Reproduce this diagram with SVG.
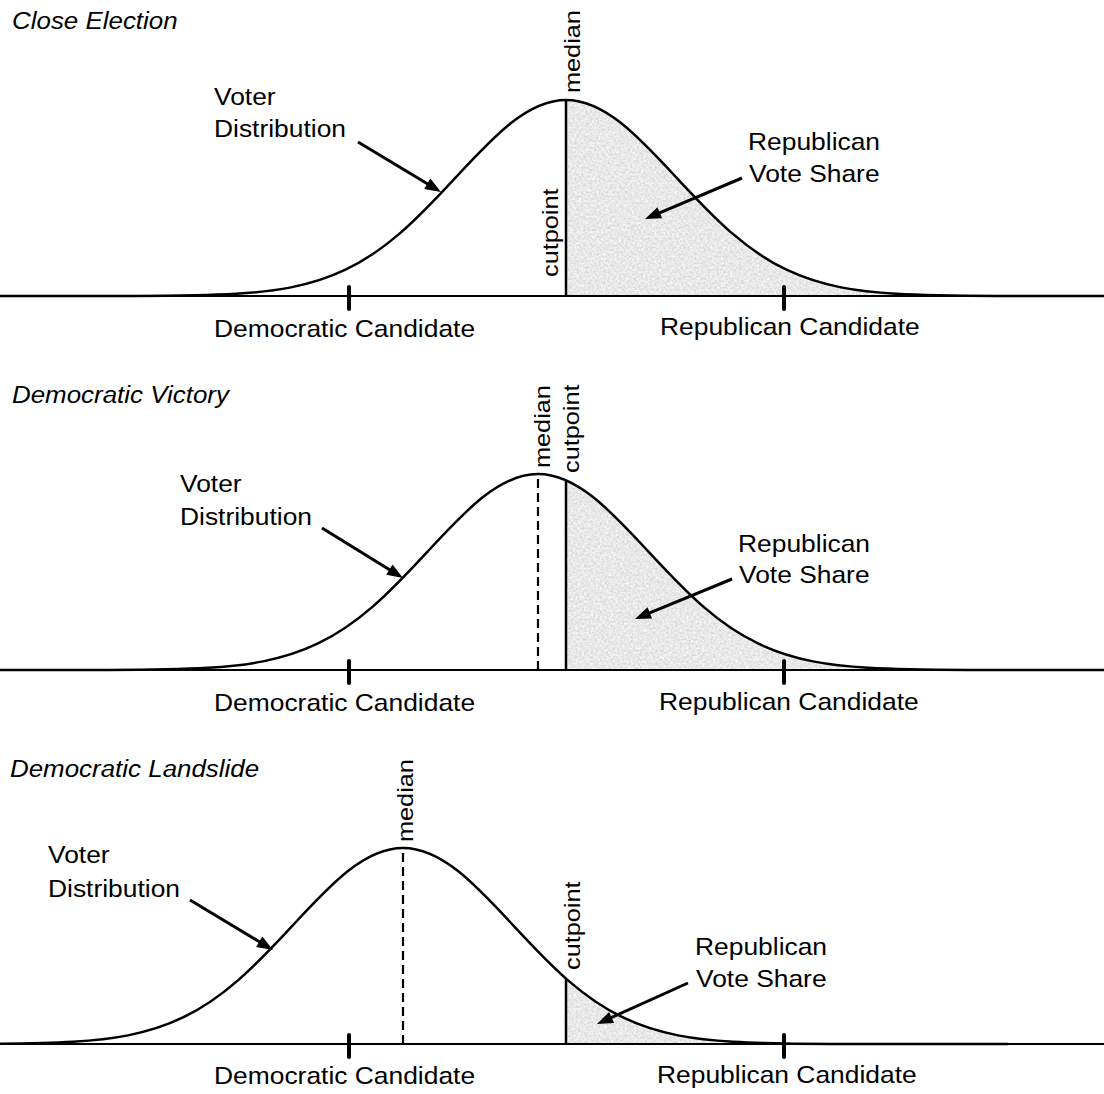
<svg xmlns="http://www.w3.org/2000/svg" xmlns:xlink="http://www.w3.org/1999/xlink" width="1104" height="1094" viewBox="0 0 1104 1094">
<style>
  .t { font-family: "Liberation Sans", Arial, sans-serif; font-size: 24px; fill: #000; }
  .ti { font-family: "Liberation Sans", Arial, sans-serif; font-size: 24px; font-style: italic; fill: #000; }
  .tv { font-family: "Liberation Sans", Arial, sans-serif; font-size: 22px; fill: #000; }
  .curve { fill: none; stroke: #000; stroke-width: 2.5; stroke-linejoin: round; }
  .area { fill: #e6e6e6; stroke: none; }
  .base { stroke: #000; stroke-width: 2; fill: none; }
  .tick { stroke: #000; stroke-width: 4; stroke-linecap: round; }
  .cut { stroke: #000; stroke-width: 2.5; }
  .med { stroke: #000; stroke-width: 2.2; stroke-dasharray: 9 5; }
  .arrow { stroke: #000; stroke-width: 3; fill: none; marker-end: url(#ah); }
</style>
<defs>
  <marker id="ah" markerUnits="userSpaceOnUse" markerWidth="16" markerHeight="12" refX="4" refY="6" orient="auto" overflow="visible">
    <path d="M0,0 L16,6 L0,12 Z" fill="#000"/>
  </marker>
  <filter id="grain" x="0" y="0" width="1" height="1" color-interpolation-filters="sRGB">
    <feTurbulence type="fractalNoise" baseFrequency="0.45" numOctaves="3" seed="7" result="n"/>
    <feColorMatrix in="n" type="matrix" values="0.22 0 0 0 0.8  0.22 0 0 0 0.8  0.22 0 0 0 0.8  0 0 0 0 1" result="g"/>
    <feComposite in="g" in2="SourceGraphic" operator="in"/>
  </filter>
  <path id="bell" d="M-605,0 L-440,-0.07 C-403.33,-0.15 -366.67,0 -330,-2.18 C-311.67,-3.27 -293.33,-5.02 -275,-8.61 C-256.67,-12.2 -238.33,-17.68 -220,-26.52 C-201.67,-35.36 -183.33,-47.73 -165,-63.64 C-146.67,-79.55 -128.33,-99.06 -110,-118.87 C-91.67,-138.68 -73.33,-158.56 -55,-172.97 C-36.67,-187.38 -18.33,-196 0,-196 C18.33,-196 36.67,-187.38 55,-172.97 C73.33,-158.56 91.67,-138.68 110,-118.87 C128.33,-99.06 146.67,-79.55 165,-63.64 C183.33,-47.73 201.67,-35.36 220,-26.52 C238.33,-17.68 256.67,-12.2 275,-8.61 C293.33,-5.02 311.67,-3.27 330,-2.18 C366.67,0 403.33,-0.15 440,-0.07 L605,0"/>
  <path id="bellArea" d="M-605,0 L-440,-0.07 C-403.33,-0.15 -366.67,0 -330,-2.18 C-311.67,-3.27 -293.33,-5.02 -275,-8.61 C-256.67,-12.2 -238.33,-17.68 -220,-26.52 C-201.67,-35.36 -183.33,-47.73 -165,-63.64 C-146.67,-79.55 -128.33,-99.06 -110,-118.87 C-91.67,-138.68 -73.33,-158.56 -55,-172.97 C-36.67,-187.38 -18.33,-196 0,-196 C18.33,-196 36.67,-187.38 55,-172.97 C73.33,-158.56 91.67,-138.68 110,-118.87 C128.33,-99.06 146.67,-79.55 165,-63.64 C183.33,-47.73 201.67,-35.36 220,-26.52 C238.33,-17.68 256.67,-12.2 275,-8.61 C293.33,-5.02 311.67,-3.27 330,-2.18 C366.67,0 403.33,-0.15 440,-0.07 L605,0 Z"/>
  <clipPath id="c1"><rect x="566" y="90" width="540" height="206"/></clipPath>
  <clipPath id="c2"><rect x="566" y="460" width="540" height="210"/></clipPath>
  <clipPath id="c3"><rect x="566" y="960" width="540" height="84"/></clipPath>
</defs>
<rect width="1104" height="1094" fill="#fff"/>

<!-- Panel 1: Close Election -->
<g id="panel-close">
  <text class="ti" transform="matrix(1.08 0 0 1 12 29)">Close Election</text>
  <g clip-path="url(#c1)"><use xlink:href="#bellArea" class="area" filter="url(#grain)" transform="translate(566,296)"/></g>
  <line class="base" x1="0" y1="296" x2="1104" y2="296"/>
  <use xlink:href="#bell" class="curve" transform="translate(566,296)"/>
  <line class="cut" x1="566" y1="296" x2="566" y2="100"/>
  <line class="tick" x1="349" y1="287" x2="349" y2="309"/>
  <line class="tick" x1="784" y1="287" x2="784" y2="309"/>
  <text class="t" transform="matrix(1.1 0 0 1 214 337)">Democratic Candidate</text>
  <text class="t" transform="matrix(1.1 0 0 1 660 335)">Republican Candidate</text>
  <text class="tv" transform="translate(580,93) rotate(-90) scale(1.15,1)">median</text>
  <text class="tv" transform="translate(558,277) rotate(-90) scale(1.15,1)">cutpoint</text>
  <text class="t" transform="matrix(1.1 0 0 1 214 105)">Voter</text>
  <text class="t" transform="matrix(1.1 0 0 1 214 137)">Distribution</text>
  <text class="t" transform="matrix(1.1 0 0 1 748 150)">Republican</text>
  <text class="t" transform="matrix(1.1 0 0 1 749 182)">Vote Share</text>
</g>

<!-- Panel 2: Democratic Victory -->
<g id="panel-victory">
  <text class="ti" transform="matrix(1.08 0 0 1 12 403)">Democratic Victory</text>
  <g clip-path="url(#c2)"><use xlink:href="#bellArea" class="area" filter="url(#grain)" transform="translate(538,670)"/></g>
  <line class="base" x1="0" y1="670" x2="1104" y2="670"/>
  <use xlink:href="#bell" class="curve" transform="translate(538,670)"/>
  <line class="med" x1="538" y1="670" x2="538" y2="476"/>
  <line class="cut" x1="566" y1="670" x2="566" y2="480"/>
  <line class="tick" x1="349" y1="661" x2="349" y2="683"/>
  <line class="tick" x1="784" y1="661" x2="784" y2="683"/>
  <text class="t" transform="matrix(1.1 0 0 1 214 711)">Democratic Candidate</text>
  <text class="t" transform="matrix(1.1 0 0 1 659 710)">Republican Candidate</text>
  <text class="tv" transform="translate(550,468) rotate(-90) scale(1.15,1)">median</text>
  <text class="tv" transform="translate(579,473) rotate(-90) scale(1.15,1)">cutpoint</text>
  <text class="t" transform="matrix(1.1 0 0 1 180 492)">Voter</text>
  <text class="t" transform="matrix(1.1 0 0 1 180 525)">Distribution</text>
  <text class="t" transform="matrix(1.1 0 0 1 738 552)">Republican</text>
  <text class="t" transform="matrix(1.1 0 0 1 739 583)">Vote Share</text>
</g>

<!-- Panel 3: Democratic Landslide -->
<g id="panel-landslide">
  <text class="ti" transform="matrix(1.08 0 0 1 10 777)">Democratic Landslide</text>
  <g clip-path="url(#c3)"><use xlink:href="#bellArea" class="area" filter="url(#grain)" transform="translate(403,1044)"/></g>
  <line class="base" x1="0" y1="1044" x2="1104" y2="1044"/>
  <use xlink:href="#bell" class="curve" transform="translate(403,1044)"/>
  <line class="med" x1="403" y1="1044" x2="403" y2="850"/>
  <line class="cut" x1="566" y1="1044" x2="566" y2="979"/>
  <line class="tick" x1="349" y1="1035" x2="349" y2="1057"/>
  <line class="tick" x1="784" y1="1035" x2="784" y2="1057"/>
  <text class="t" transform="matrix(1.1 0 0 1 214 1084)">Democratic Candidate</text>
  <text class="t" transform="matrix(1.1 0 0 1 657 1083)">Republican Candidate</text>
  <text class="tv" transform="translate(413,842) rotate(-90) scale(1.15,1)">median</text>
  <text class="tv" transform="translate(580,970) rotate(-90) scale(1.15,1)">cutpoint</text>
  <text class="t" transform="matrix(1.1 0 0 1 48 863)">Voter</text>
  <text class="t" transform="matrix(1.1 0 0 1 48 897)">Distribution</text>
  <text class="t" transform="matrix(1.1 0 0 1 695 955)">Republican</text>
  <text class="t" transform="matrix(1.1 0 0 1 696 987)">Vote Share</text>
</g>

<!-- Connectors (arrows) -->
<g id="connectors">
  <line class="arrow" x1="358" y1="142" x2="430.7" y2="185.8"/>
  <line class="arrow" x1="742" y1="178" x2="656.1" y2="214.3"/>
  <line class="arrow" x1="322" y1="528" x2="392.8" y2="571.7"/>
  <line class="arrow" x1="732" y1="579" x2="646.1" y2="614.4"/>
  <line class="arrow" x1="190" y1="900" x2="262.7" y2="943.8"/>
  <line class="arrow" x1="688" y1="983" x2="607.9" y2="1019.1"/>
</g>
</svg>
